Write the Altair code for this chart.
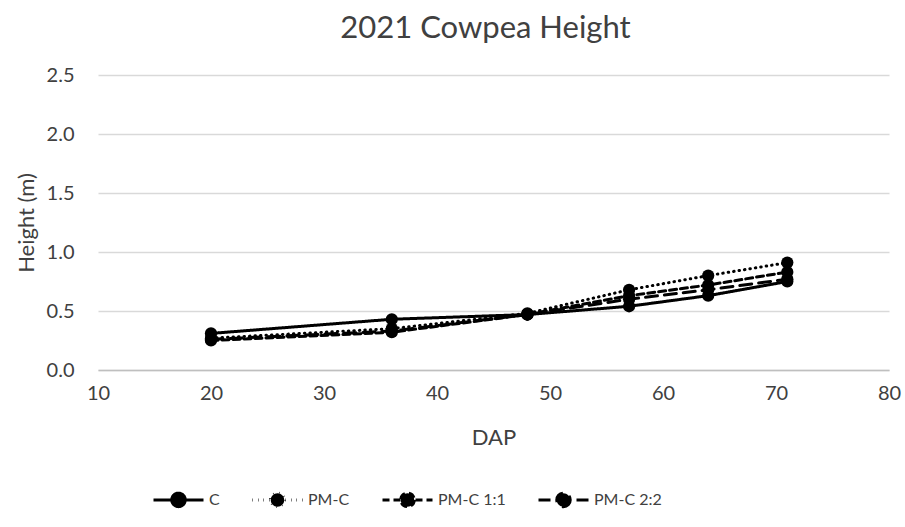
import altair as alt
import pandas as pd

# Days after planting and cowpea height (m) per treatment
dap = [20, 36, 48, 57, 64, 71]
series_names = ["C", "PM-C", "PM-C 1:1", "PM-C 2:2"]
height_c = [0.31, 0.43, 0.47, 0.54, 0.63, 0.75]
height_pm_c = [0.27, 0.35, 0.48, 0.68, 0.80, 0.91]
height_pm_c_11 = [0.25, 0.32, 0.47, 0.63, 0.72, 0.83]
height_pm_c_22 = [0.26, 0.33, 0.47, 0.60, 0.68, 0.77]

rows = []
for name, vals in zip(series_names, [height_c, height_pm_c, height_pm_c_11, height_pm_c_22]):
    for d, v in zip(dap, vals):
        rows.append({"DAP": d, "Height": v, "Treatment": name})
df = pd.DataFrame(rows)

FONT = "Lato"
TEXT = "#404040"
dash_range = [[1, 0], [0.5, 5], [7, 4], [12, 7]]

x_enc = alt.X(
    "DAP:Q",
    title="DAP",
    scale=alt.Scale(domain=[10, 80], nice=False),
    axis=alt.Axis(values=[10, 20, 30, 40, 50, 60, 70, 80], grid=False, ticks=False,
                  labelFlush=False, domainColor="#bfbfbf", domainWidth=1.5,
                  labelPadding=13, titlePadding=24),
)
y_enc = alt.Y(
    "Height:Q",
    title="Height (m)",
    scale=alt.Scale(domain=[0, 2.5], nice=False),
    axis=alt.Axis(values=[0, 0.5, 1.0, 1.5, 2.0, 2.5], format=".1f", grid=True,
                  gridColor="#d9d9d9", gridWidth=1.5, domain=False, ticks=False,
                  labelFlush=False, labelPadding=24, titlePadding=8),
)

legend_symbol = "M-1,0H1M0.27,0A0.27,0.27,0,1,1,-0.27,0A0.27,0.27,0,1,1,0.27,0Z"

lines = alt.Chart(df).mark_line(color="black", strokeWidth=3, strokeCap="round").encode(
    x=x_enc,
    y=y_enc,
    strokeDash=alt.StrokeDash(
        "Treatment:N",
        scale=alt.Scale(domain=series_names, range=dash_range),
        sort=series_names,
        legend=alt.Legend(
            title=None, orient="none", direction="horizontal",
            legendX=54, legendY=398,
            symbolType=legend_symbol, symbolSize=2500,
            symbolStrokeWidth=3, symbolStrokeColor="black", symbolFillColor="black",
            labelFontSize=16, labelFont=FONT, labelColor=TEXT,
            labelOffset=4, columnPadding=26, padding=0,
        ),
    ),
)

points = alt.Chart(df).mark_point(filled=True, size=150, color="black", opacity=1).encode(
    x="DAP:Q",
    y="Height:Q",
    detail="Treatment:N",
)

chart = (
    alt.layer(lines, points)
    .properties(
        width=791,
        height=295,
        autosize=alt.AutoSizeParams(type="none"),
        padding={"left": 98, "top": 75, "right": 16, "bottom": 157},
        title=alt.Title("2021 Cowpea Height", fontSize=31, font=FONT, fontWeight="normal",
                        color=TEXT, anchor="middle", offset=20, dx=-8),
    )
    .configure_view(stroke=None)
    .configure_axis(labelFont=FONT, titleFont=FONT, labelFontSize=20, titleFontSize=22,
                    labelColor=TEXT, titleColor=TEXT, titleFontWeight="normal")
)

chart.save("out.html", embed_options={"renderer": "svg", "actions": False})
